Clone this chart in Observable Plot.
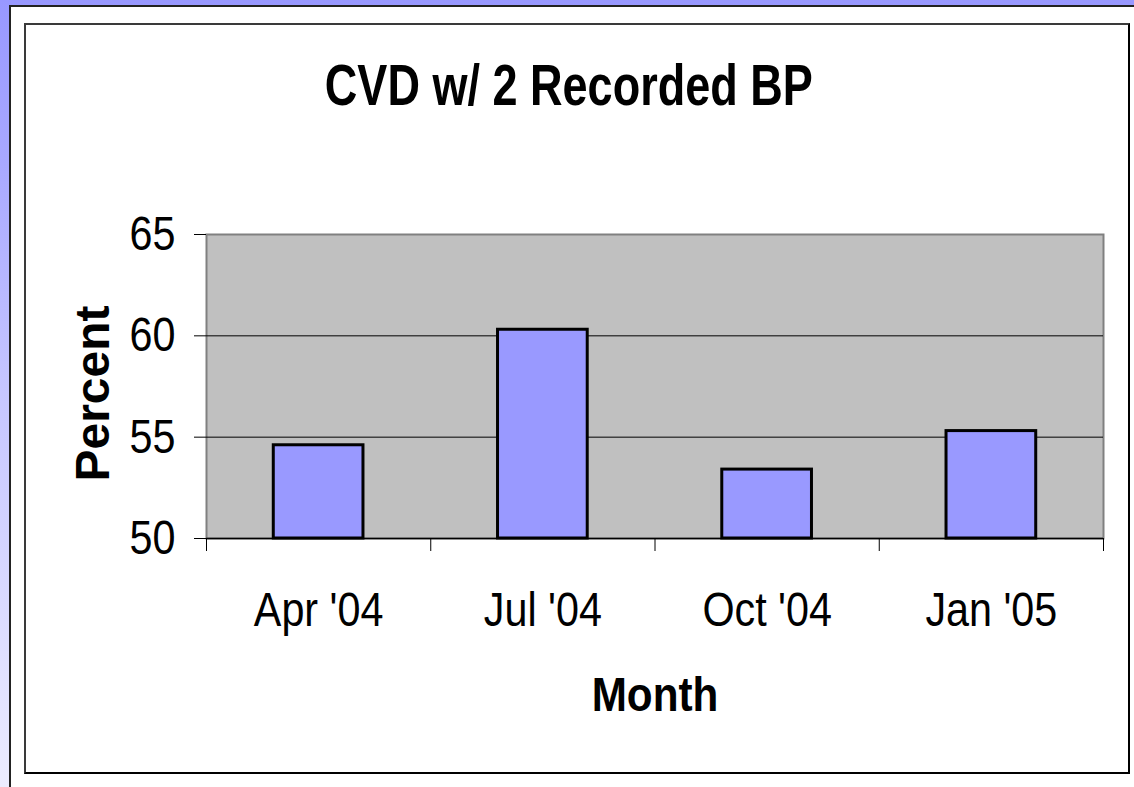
<!DOCTYPE html>
<html>
<head>
<meta charset="utf-8">
<script src="https://cdn.jsdelivr.net/npm/d3@7"></script>
<script src="https://cdn.jsdelivr.net/npm/@observablehq/plot@0.6"></script>
<style>
  html, body { margin: 0; padding: 0; }
  body {
    width: 1134px; height: 787px; overflow: hidden; position: relative;
    background: linear-gradient(180deg, #9898ff 0%, #a8a8ff 20%, #c6c6ff 50%, #ececff 100%);
    font-family: "Liberation Sans", Arial, sans-serif;
  }
  #panel {
    position: absolute; left: 9px; top: 5px; right: 0; bottom: 0;
    background: #fff; border-left: 2px solid #222; border-top: 2px solid #222;
  }
  #box {
    position: absolute; left: 24px; top: 23px; width: 1106px; height: 751px;
    box-sizing: border-box; border: 2px solid #3a3a3a;
    border-right-color: #000; border-bottom-color: #000;
  }
  #title {
    position: absolute; left: 0; top: 57px; width: 1137px; text-align: center;
    font: bold 57px/1 "Liberation Sans", Arial, sans-serif; color: #000;
  }
  #title span { display: inline-block; transform: scaleX(0.79); white-space: nowrap; }
  #chart { position: absolute; left: 0; top: 150px; }
</style>
</head>
<body>
<div id="panel"></div>
<div id="box"></div>
<div id="title"><span>CVD w/ 2 Recorded BP</span></div>
<div id="chart"></div>
<script>
const categories = ["Apr '04", "Jul '04", "Oct '04", "Jan '05"];
const values = [54.6, 60.3, 53.4, 55.3];
const yTicks = [50, 55, 60, 65];
const gridValues = [55, 60];
const yDomain = [50, 65];

const data = categories.map((c, i) => ({category: c, index: i, value: values[i]}));
const boundaries = d3.range(categories.length + 1);
const centers = categories.map((c, i) => i + 0.5);

const chart = Plot.plot({
  width: 1134,
  height: 620,
  marginTop: 84,
  marginBottom: 232,
  marginLeft: 206,
  marginRight: 31,
  style: {background: "transparent", fontFamily: "'Liberation Sans', Arial, sans-serif", color: "#000", overflow: "visible"},
  x: {type: "linear", domain: [0, categories.length], label: null},
  y: {domain: yDomain, label: null},
  marks: [
    Plot.frame({fill: "#c0c0c0", stroke: "#808080", strokeWidth: 2}),
    Plot.ruleY(gridValues, {stroke: "#000", strokeWidth: 1}),
    Plot.rectY(data, {
      x1: d => d.index + 0.3,
      x2: d => d.index + 0.7,
      y1: yDomain[0],
      y2: "value",
      fill: "#9999ff",
      stroke: "#000",
      strokeWidth: 3
    }),
    Plot.ruleY([yDomain[0]], {stroke: "#000", strokeWidth: 1.5}),
    Plot.axisY({ticks: yTicks, tickSize: 12, tickPadding: 19, fontSize: 48, stroke: "#000", label: null, tickFormat: d => String(d)}),
    Plot.axisX({ticks: boundaries, tickSize: 13, tickFormat: () => "", stroke: "#000", label: null}),
    Plot.axisX({ticks: centers, tickSize: 0, tickPadding: 53, fontSize: 48, label: null,
      tickFormat: d => categories[Math.floor(d)]}),
    Plot.text(["Percent"], {text: d => d, frameAnchor: "left", textAnchor: "middle", dx: -113, dy: 7, rotate: -90,
      fontSize: 48, fontWeight: "bold", lineAnchor: "middle", fill: "#000"}),
    Plot.text(["Month"], {text: d => d, frameAnchor: "bottom", lineAnchor: "bottom", dy: 172,
      fontSize: 48, fontWeight: "bold", fill: "#000"})
  ]
});

document.getElementById("chart").append(chart);

chart.querySelectorAll("text").forEach(t => {
  const s = t.textContent;
  if (!s || s === "Percent") return;
  const f = s === "Month" ? 0.88 : 0.86;
  t.setAttribute("textLength", t.getComputedTextLength() * f);
  t.setAttribute("lengthAdjust", "spacingAndGlyphs");
});
</script>
</body>
</html>
